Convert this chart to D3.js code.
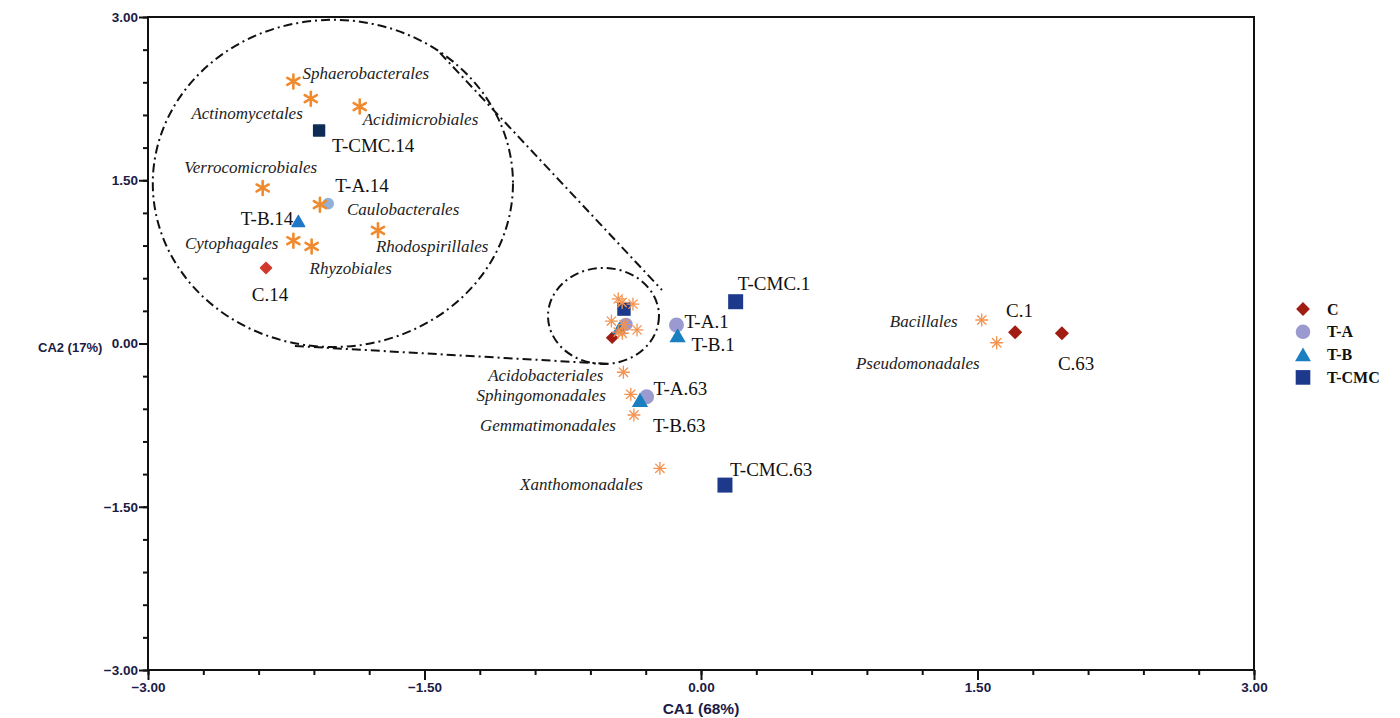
<!DOCTYPE html>
<head>
  <meta charset="utf-8">
  <script src="https://d3js.org/d3.v7.min.js"></script>
  <style>
    body { margin:0; background:#fff; }
    .tick text { font-family: "Liberation Sans", Arial, sans-serif; font-weight: bold; font-size: 13.5px; fill: #1b1b45; }
    .axis path, .axis line { stroke: #111; }
    .lab { font-family: "Liberation Serif", "Times New Roman", serif; font-size: 19px; fill: #111; }
    .sp { font-family: "Liberation Serif", "Times New Roman", serif; font-style: italic; font-size: 17px; fill: #222; }
    .leg { font-family: "Liberation Serif", "Times New Roman", serif; font-weight: bold; font-size: 16px; fill: #111; }
    .ttl { font-family: "Liberation Sans", Arial, sans-serif; font-weight: bold; font-size: 15.5px; fill: #1b1b45; }
  </style>
</head>
<body>
  <div id="chart"></div>
  <script>
    // sample scores (CA1, CA2)
    const groups = ["C", "T-A", "T-B", "T-CMC"];
    const samples = [
      {name: "C.1",      group: "C",     x: 1.704,  y: 0.103},
      {name: "C.63",     group: "C",     x: 1.958,  y: 0.094},
      {name: "C.14",     group: "C",     x: -0.482, y: 0.053},
      {name: "T-A.1",    group: "T-A",   x: -0.133, y: 0.170},
      {name: "T-A.63",   group: "T-A",   x: -0.295, y: -0.490},
      {name: "T-A.14",   group: "T-A",   x: -0.407, y: 0.176},
      {name: "T-B.1",    group: "T-B",   x: -0.127, y: 0.072},
      {name: "T-B.63",   group: "T-B",   x: -0.331, y: -0.521},
      {name: "T-B.14",   group: "T-B",   x: -0.443, y: 0.143},
      {name: "T-CMC.1",  group: "T-CMC", x: 0.188,  y: 0.384},
      {name: "T-CMC.63", group: "T-CMC", x: 0.130,  y: -1.301},
      {name: "T-CMC.14", group: "T-CMC", x: -0.418, y: 0.316}
    ];
    // order scores
    const orders = [
      {name: "Bacillales",         x: 1.523,  y: 0.216},
      {name: "Pseudomonadales",    x: 1.604,  y: 0.007},
      {name: "Acidobacteriales",   x: -0.421, y: -0.264},
      {name: "Sphingomonadales",   x: -0.381, y: -0.467},
      {name: "Gemmatimonadales",   x: -0.364, y: -0.657},
      {name: "Xanthomonadales",    x: -0.223, y: -1.147},
      {name: "Sphaerobacterales",  x: -0.449, y: 0.410},
      {name: "Actinomycetales",    x: -0.428, y: 0.377},
      {name: "Acidimicrobiales",   x: -0.369, y: 0.362},
      {name: "Verrocomicrobiales", x: -0.486, y: 0.206},
      {name: "Caulobacterales",    x: -0.417, y: 0.174},
      {name: "Rhodospirillales",   x: -0.347, y: 0.125},
      {name: "Cytophagales",       x: -0.449, y: 0.105},
      {name: "Rhyzobiales",        x: -0.427, y: 0.094}
    ];
    // members of the enlarged cluster
    const zoomed = ["C.14", "T-A.14", "T-B.14", "T-CMC.14",
      "Sphaerobacterales", "Actinomycetales", "Acidimicrobiales", "Verrocomicrobiales",
      "Caulobacterales", "Rhodospirillales", "Cytophagales", "Rhyzobiales"];
    const majorTicks = [-3, -1.5, 0, 1.5, 3];

    const W = 1400, H = 718;
    const svg = d3.select("#chart").append("svg").attr("width", W).attr("height", H);

    const x = d3.scaleLinear().domain([-3, 3]).range([148, 1254]);
    const y = d3.scaleLinear().domain([-3, 3]).range([670, 17]);

    // enlarged view of the cluster (centre -0.438, 0.172)
    const xIn = d3.scaleLinear().domain([-0.638, -0.238]).range([136.6, 468.4]);
    const yIn = d3.scaleLinear().domain([-0.028, 0.372]).range([310.2, 101.3]);

    const mainCol = {"C": "#a11d13", "T-A": "#9a9ad0", "T-B": "#1a7fc1", "T-CMC": "#1c398b"};
    const inCol = {"C": "#d2382a", "T-A": "#8fb1da", "T-B": "#1f78c6", "T-CMC": "#0d2c55"};
    const shape = {"C": d3.symbolSquare, "T-A": d3.symbolCircle, "T-B": d3.symbolTriangle, "T-CMC": d3.symbolSquare};
    const mainSize = {"C": 100, "T-A": 175, "T-B": 115, "T-CMC": 225};
    const inSize = {"C": 60, "T-A": 80, "T-B": 68, "T-CMC": 118};
    const rot = g => g === "C" ? 45 : 0;
    const yShift = g => g === "T-B" ? 2 : 0;

    // label placement: [dx, dy, anchor]
    const mainLab = {
      "C.1": [-9, -15, "start"], "C.63": [-4, 37, "start"], "T-CMC.1": [2, -12, "start"],
      "T-A.1": [8, 3, "start"], "T-B.1": [14, 15, "start"], "T-A.63": [7, -2, "start"],
      "T-B.63": [13, 32, "start"], "T-CMC.63": [5, -9, "start"],
      "Bacillales": [-24, 7, "end"], "Pseudomonadales": [-17, 26, "end"],
      "Acidobacteriales": [-20, 9, "end"], "Sphingomonadales": [-25, 7, "end"],
      "Gemmatimonadales": [-18, 16, "end"], "Xanthomonadales": [-17, 22, "end"]
    };
    const inLab = {
      "Sphaerobacterales": [9, -2, "start"], "Actinomycetales": [-8, 20, "end"],
      "Acidimicrobiales": [3, 18, "start"], "T-CMC.14": [13, 21, "start"],
      "Verrocomicrobiales": [-12, -15, "middle"], "T-A.14": [7, -12, "start"],
      "Caulobacterales": [27, 10, "start"], "T-B.14": [-5, 4, "end"],
      "Rhodospirillales": [-2, 22, "start"], "Cytophagales": [-15, 8, "end"],
      "Rhyzobiales": [-2, 28, "start"], "C.14": [4, 33, "middle"]
    };

    // frame and axes
    svg.append("rect").attr("x", x(-3)).attr("y", y(3))
      .attr("width", x(3) - x(-3)).attr("height", y(-3) - y(3))
      .attr("fill", "none").attr("stroke", "#111").attr("stroke-width", 2);

    const minor = d3.range(-3, 3.001, 0.3);
    const ax = svg.append("g").attr("class", "axis").attr("transform", "translate(0," + y(-3) + ")");
    ax.call(d3.axisBottom(x).tickValues(minor).tickSize(5).tickFormat(""));
    ax.call(g => g.select(".domain").remove());
    ax.selectAll("line").attr("stroke-width", 2);
    const ax2 = svg.append("g").attr("class", "axis").attr("transform", "translate(0," + y(-3) + ")");
    ax2.call(d3.axisBottom(x).tickValues(majorTicks).tickSize(10).tickPadding(2).tickFormat(d3.format(".2f")));
    ax2.call(g => g.select(".domain").remove());
    ax2.selectAll("line").attr("stroke-width", 2);

    const ay = svg.append("g").attr("class", "axis").attr("transform", "translate(" + x(-3) + ",0)");
    ay.call(d3.axisLeft(y).tickValues(minor).tickSize(5).tickFormat(""));
    ay.call(g => g.select(".domain").remove());
    ay.selectAll("line").attr("stroke-width", 2);
    const ay2 = svg.append("g").attr("class", "axis").attr("transform", "translate(" + x(-3) + ",0)");
    ay2.call(d3.axisLeft(y).tickValues(majorTicks).tickSize(9).tickPadding(1).tickFormat(d3.format(".2f")));
    ay2.call(g => g.select(".domain").remove());
    ay2.selectAll("line").attr("stroke-width", 2);

    svg.append("text").attr("class", "ttl").attr("x", x(0)).attr("y", 714)
      .attr("text-anchor", "middle").text("CA1 (68%)");
    svg.append("text").attr("class", "ttl").attr("x", 38).attr("y", 352)
      .style("font-size", "13px").text("CA2 (17%)");

    // dash-dot outlines of the cluster and the enlargement
    const dash = "9,4,2,4";
    const ell = (cx, cy, rx, ry) => svg.append("ellipse")
      .attr("cx", x(cx)).attr("cy", y(cy))
      .attr("rx", x(cx + rx) - x(cx)).attr("ry", y(cy) - y(cy + ry))
      .attr("fill", "none").attr("stroke", "#111").attr("stroke-width", 2)
      .attr("stroke-dasharray", dash);
    ell(-1.997, 1.471, 0.977, 1.503);
    ell(-0.529, 0.253, 0.301, 0.441);
    const conn = [[-1.416, 2.670, -0.212, 0.492], [-2.203, -0.023, -0.494, -0.188]];
    svg.selectAll(".conn").data(conn).enter().append("line")
      .attr("x1", d => x(d[0])).attr("y1", d => y(d[1]))
      .attr("x2", d => x(d[2])).attr("y2", d => y(d[3]))
      .attr("stroke", "#111").attr("stroke-width", 2).attr("stroke-dasharray", dash);

    function star(g, cx, cy, r, arms, col, sw) {
      for (let i = 0; i < arms; i++) {
        const a = Math.PI * i / arms;
        g.append("line")
          .attr("x1", cx + r * Math.sin(a)).attr("y1", cy - r * Math.cos(a))
          .attr("x2", cx - r * Math.sin(a)).attr("y2", cy + r * Math.cos(a))
          .attr("stroke", col).attr("stroke-width", sw).attr("stroke-linecap", "round");
      }
    }

    // main plot marks
    const gm = svg.append("g");
    samples.forEach(d => {
      gm.append("path")
        .attr("d", d3.symbol().type(shape[d.group]).size(mainSize[d.group] * (zoomed.includes(d.name) ? 0.8 : 1))())
        .attr("transform", "translate(" + x(d.x) + "," + (y(d.y) + yShift(d.group)) + ") rotate(" + rot(d.group) + ")")
        .attr("fill", mainCol[d.group]);
    });
    orders.forEach(d => star(gm, x(d.x), y(d.y), 6, 4, "#f4924f", 1.3));

    samples.filter(d => mainLab[d.name]).forEach(d => {
      const p = mainLab[d.name];
      gm.append("text").attr("class", "lab").attr("x", x(d.x) + p[0]).attr("y", y(d.y) + p[1])
        .attr("text-anchor", p[2]).text(d.name);
    });
    orders.filter(d => mainLab[d.name]).forEach(d => {
      const p = mainLab[d.name];
      gm.append("text").attr("class", "sp").attr("x", x(d.x) + p[0]).attr("y", y(d.y) + p[1])
        .attr("text-anchor", p[2]).text(d.name);
    });

    // enlarged cluster
    const gi = svg.append("g");
    samples.filter(d => zoomed.includes(d.name)).forEach(d => {
      gi.append("path")
        .attr("d", d3.symbol().type(shape[d.group]).size(inSize[d.group])())
        .attr("transform", "translate(" + xIn(d.x) + "," + (yIn(d.y) + yShift(d.group)) + ") rotate(" + rot(d.group) + ")")
        .attr("fill", inCol[d.group]).attr("stroke", inCol[d.group]).attr("stroke-width", 1.5)
        .attr("stroke-linejoin", "round");
      const p = inLab[d.name];
      gi.append("text").attr("class", "lab").attr("x", xIn(d.x) + p[0]).attr("y", yIn(d.y) + p[1])
        .attr("text-anchor", p[2]).text(d.name);
    });
    orders.filter(d => zoomed.includes(d.name)).forEach(d => {
      star(gi, xIn(d.x), yIn(d.y), 7, 3, "#f08a2e", 2.6);
      const p = inLab[d.name];
      gi.append("text").attr("class", "sp").attr("x", xIn(d.x) + p[0]).attr("y", yIn(d.y) + p[1])
        .attr("text-anchor", p[2]).text(d.name);
    });

    // legend
    const lg = svg.append("g").attr("transform", "translate(1303,309)");
    groups.forEach((g, i) => {
      lg.append("path")
        .attr("d", d3.symbol().type(shape[g]).size(mainSize[g] * 0.95)())
        .attr("transform", "translate(0," + (i * 22.8 + yShift(g)) + ") rotate(" + rot(g) + ")")
        .attr("fill", mainCol[g]);
      lg.append("text").attr("class", "leg").attr("x", 24).attr("y", i * 22.8 + 5.5).text(g);
    });
  </script>
</body>
